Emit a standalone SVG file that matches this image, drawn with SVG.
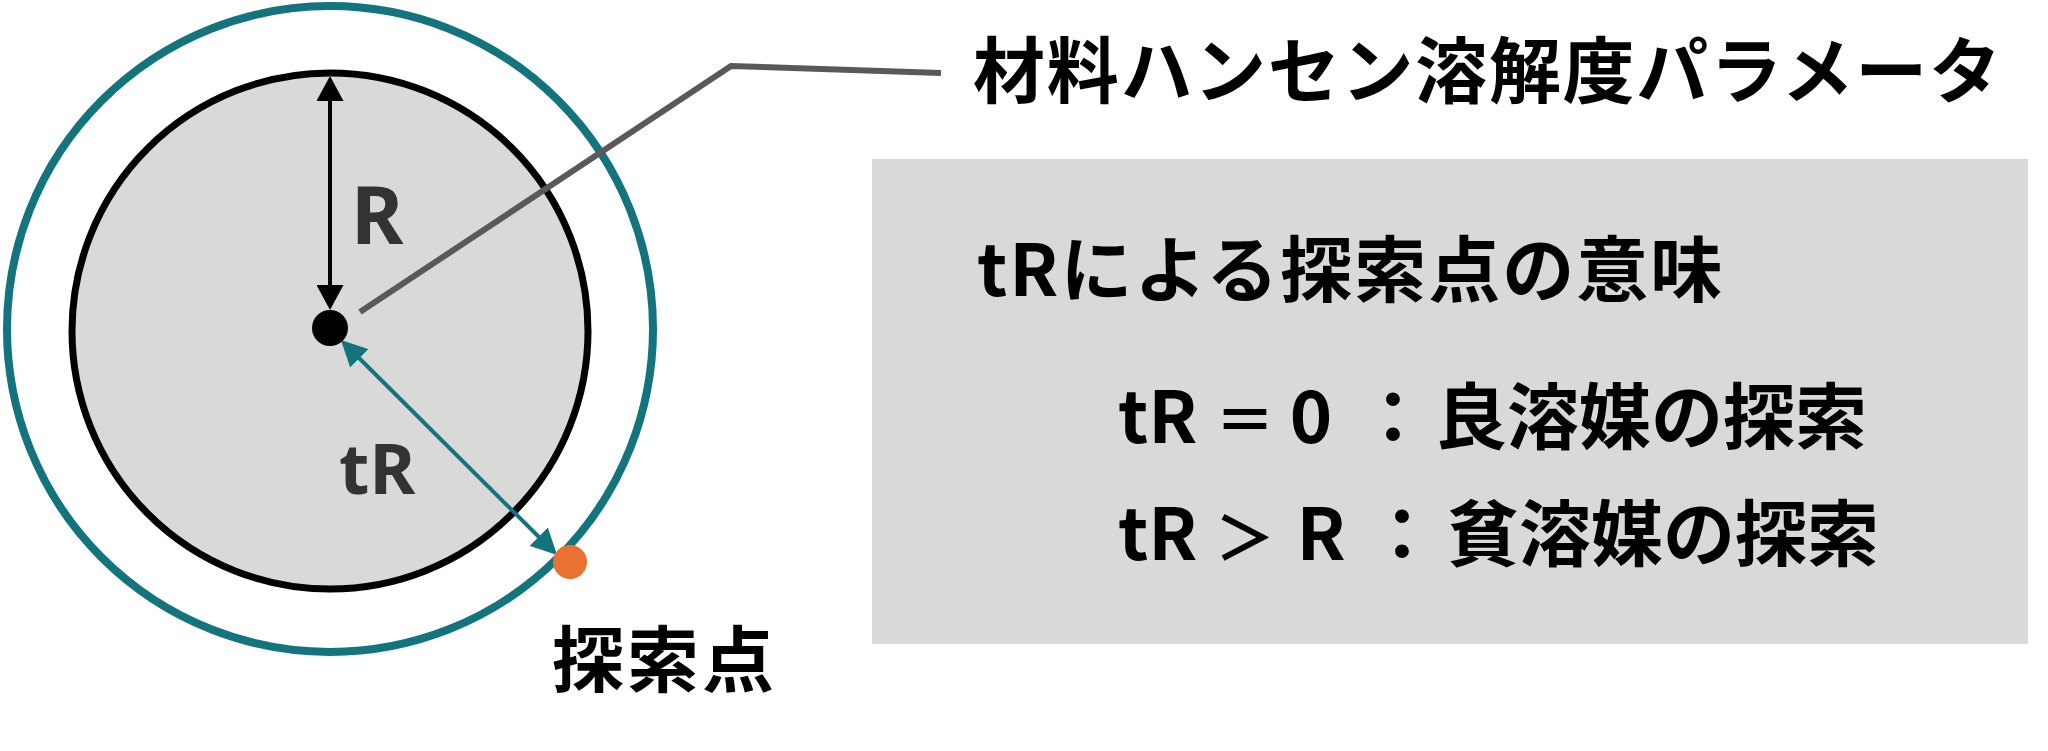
<svg xmlns="http://www.w3.org/2000/svg" width="2048" height="751" viewBox="0 0 2048 751">
  <style>
    .jp { font-family: "Noto Sans CJK JP", "Noto Sans", sans-serif; font-weight: 700; fill: #000000; }
    .lat { font-family: "Noto Sans", "Liberation Sans", sans-serif; font-weight: 700; fill: #333333; }
    .ctr { text-anchor: middle; }
  </style>
  <defs>
    <marker id="arrBlack" viewBox="0 0 25 27" refX="15" refY="13.5" markerWidth="25" markerHeight="27" markerUnits="userSpaceOnUse" orient="auto-start-reverse">
      <path d="M0,0 L25,13.5 L0,27 Z" fill="#000000"/>
    </marker>
    <marker id="arrTeal" viewBox="0 0 26 26" refX="16" refY="13" markerWidth="26" markerHeight="26" markerUnits="userSpaceOnUse" orient="auto-start-reverse">
      <path d="M0,0 L26,13 L0,26 Z" fill="#13747d"/>
    </marker>
  </defs>
  <rect x="0" y="0" width="2048" height="751" fill="#ffffff"/>

  <g id="outer-circle">
    <circle cx="330" cy="329" r="323" fill="none" stroke="#13747d" stroke-width="8"/>
  </g>
  <g id="inner-circle">
    <circle cx="330" cy="331" r="258" fill="#d9d9d9" stroke="#000000" stroke-width="7"/>
  </g>
  <g id="label-R">
    <text class="lat" x="351" y="244" font-size="80">R</text>
  </g>
  <g id="label-tR">
    <text class="lat" x="339" y="494" font-size="70">tR</text>
  </g>

  <g id="connectors">
    <line x1="330" y1="86" x2="330" y2="300" stroke="#000000" stroke-width="4" marker-start="url(#arrBlack)" marker-end="url(#arrBlack)"/>
    <line x1="348" y1="347" x2="550" y2="548" stroke="#13747d" stroke-width="4" marker-start="url(#arrTeal)" marker-end="url(#arrTeal)"/>
    <polyline points="360,312 731,66 941,73" fill="none" stroke="#595959" stroke-width="6" stroke-linejoin="miter"/>
  </g>

  <g id="center">
    <circle cx="330" cy="328" r="18" fill="#000000"/>
  </g>
  <g id="search-point">
    <circle cx="570" cy="562" r="17" fill="#e97132"/>
  </g>
  <g id="label-search-point">
    <text class="jp" x="552" y="686" font-size="72" letter-spacing="3">探索点</text>
  </g>

  <g id="title">
    <text class="jp" x="973" y="97" font-size="72" letter-spacing="1.7">材料ハンセン溶解度パラメータ</text>
  </g>

  <g id="legend">
    <rect x="872" y="159" width="1156" height="485" fill="#d9d9d9"/>
    <text class="jp" x="977" y="296" font-size="72" letter-spacing="2">tRによる探索点の意味</text>
    <text class="jp" y="443" font-size="72"><tspan x="1118">tR </tspan><tspan x="1245" class="ctr" font-size="60">＝</tspan><tspan x="1311" class="ctr">0</tspan><tspan x="1393" class="ctr">：</tspan><tspan x="1435">良溶媒の探索</tspan></text>
    <text class="jp" y="560" font-size="72"><tspan x="1118">tR </tspan><tspan x="1245" class="ctr" font-size="60">＞</tspan><tspan x="1321" class="ctr">R</tspan><tspan x="1402" class="ctr">：</tspan><tspan x="1447">貧溶媒の探索</tspan></text>
  </g>
</svg>
